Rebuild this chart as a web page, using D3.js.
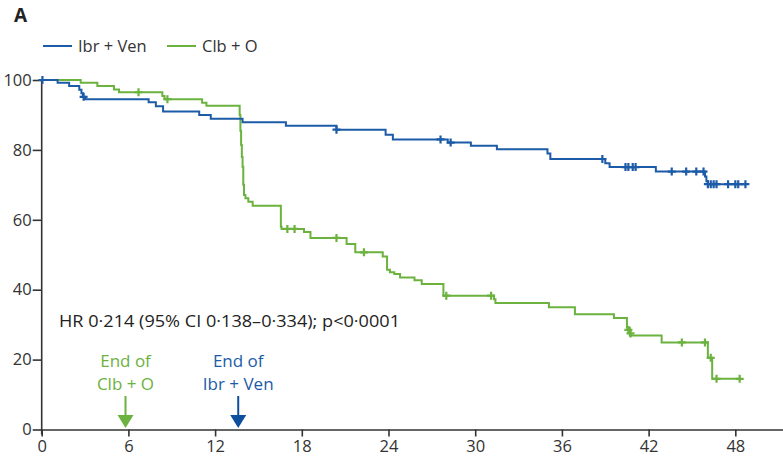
<!DOCTYPE html>
<html><head><meta charset="utf-8">
<script src="https://cdn.jsdelivr.net/npm/d3@7"></script>
<style>
body{margin:0;background:#fff;}
svg{display:block;font-family:"Open Sans",sans-serif;}
</style></head><body>
<svg id="c" width="783" height="458"></svg>
<script>
// ---- data (months, % event-free) ----
const xTicks = [0, 6, 12, 18, 24, 30, 36, 42, 48];
const yTicks = [0, 20, 40, 60, 80, 100];

const ibrVenSteps = [
  [0,100],[1.1,99.2],[1.9,98.3],[2.6,97.2],[2.75,96.2],[2.85,95.2],[3.0,94.5],
  [7.4,93.6],[7.9,92.5],[8.4,91.0],[10.9,90.0],[11.7,88.9],[13.9,87.9],[16.9,86.9],
  [20.4,85.8],[23.8,84.3],[24.3,83.0],[28.1,82.1],[29.7,81.2],[31.5,80.2],[35.0,79.0],
  [35.2,77.4],[39.0,76.2],[39.3,75.1],[42.5,73.8],[45.9,72.4],[46.0,71.0],[46.1,70.2],[48.8,70.2]
];
const ibrVenCensor = [
  [0.05,100],[2.9,95.2],[20.4,85.8],[27.6,83.0],[28.3,82.1],[38.8,77.4],[40.4,75.1],[40.6,75.1],
  [40.9,75.1],[41.1,75.1],[43.6,73.8],[44.6,73.8],[45.3,73.8],[45.8,73.8],[46.1,70.2],[46.3,70.2],
  [46.5,70.2],[46.7,70.2],[47.5,70.2],[48.0,70.2],[48.2,70.2],[48.7,70.2]
];
const clbOSteps = [
  [0,100],[2.7,99.2],[3.85,98.3],[5.0,97.3],[5.35,96.5],[8.35,95.4],[8.5,94.5],[11.1,93.5],
  [11.4,92.6],[13.7,90.0],[13.75,85.5],[13.8,81.4],[13.85,78.0],[13.9,75.2],[13.95,70.0],
  [14.0,67.1],[14.1,66.2],[14.3,65.2],[14.6,64.0],[16.55,58.0],[16.6,57.4],[18.15,56.5],
  [18.6,54.8],[21.1,53.1],[21.7,50.7],[23.6,49.5],[23.9,45.7],[24.1,45.0],[24.4,44.5],
  [24.8,43.5],[25.8,42.7],[26.3,41.6],[27.8,38.3],[31.3,37.3],[31.4,36.2],[35.1,35.0],
  [36.9,33.0],[39.6,31.9],[40.5,29.1],[40.7,26.9],[42.9,24.9],[46.1,20.5],[46.4,14.5],[48.4,14.5]
];
const clbOCensor = [
  [6.7,96.5],[8.7,94.5],[17.0,57.4],[17.5,57.4],[20.4,54.8],[22.3,50.7],[28.0,38.3],[31.1,38.3],
  [40.6,28.5],[40.75,27.5],[44.3,24.9],[45.9,24.9],[46.3,20.5],[46.7,14.5],[48.3,14.5]
];
const seriesNames = ["Ibr + Ven", "Clb + O"];
const hrText = "HR 0·214 (95% CI 0·138–0·334); p<0·0001";
const endLabels = [
  {name:"Clb + O", month:5.8, lines:["End of","Clb + O"]},
  {name:"Ibr + Ven", month:13.6, lines:["End of","Ibr + Ven"]}
];

// ---- drawing ----
const blue = "#1c5ba7", green = "#6bb23e", axisCol = "#333";
const svg = d3.select("#c");
const x = d3.scaleLinear().domain([0, 51.3]).range([41.7, 783]);
const y = d3.scaleLinear().domain([0, 100]).range([429.5, 80]);

// axes
const xAxis = d3.axisBottom(x).tickValues(xTicks).tickSize(7).tickSizeOuter(0).tickPadding(4);
const gx = svg.append("g").attr("transform", `translate(0,${y(0)})`).call(xAxis);
const yAxis = d3.axisLeft(y).tickValues(yTicks).tickSize(9).tickSizeOuter(0).tickPadding(1);
const gy = svg.append("g").attr("transform", `translate(${x(0)},0)`).call(yAxis);
[gx, gy].forEach(g => {
  g.select(".domain").attr("stroke", axisCol).attr("stroke-width", 1.6);
  g.selectAll(".tick line").attr("stroke", axisCol).attr("stroke-width", 1.6);
  g.selectAll(".tick text").attr("fill", "#333").style("font-size", "16.5px").style("font-family", "'Open Sans',sans-serif");
});
gy.select(".domain").attr("d", `M0,${y(100)}V${y(0)+5}`);

const line = d3.line().x(d => x(d[0])).y(d => y(d[1])).curve(d3.curveStepAfter);
function drawSeries(steps, cens, col) {
  svg.append("path").datum(steps).attr("d", line).attr("fill", "none")
    .attr("stroke", col).attr("stroke-width", 2);
  const s = 4;
  svg.append("g").selectAll("path").data(cens).join("path")
    .attr("d", d => `M${x(d[0])-s},${y(d[1])}H${x(d[0])+s}M${x(d[0])},${y(d[1])-s}V${y(d[1])+s}`)
    .attr("stroke", col).attr("stroke-width", 2.2).attr("fill", "none");
}
drawSeries(clbOSteps, clbOCensor, green);
drawSeries(ibrVenSteps, ibrVenCensor, blue);

// panel label
svg.append("text").attr("x", 14).attr("y", 22).text("A")
  .style("font-size", "19px").style("font-weight", "bold").attr("fill", "#222");

// legend
const legend = [{name: seriesNames[0], col: blue, x: 43}, {name: seriesNames[1], col: green, x: 167}];
legend.forEach(l => {
  svg.append("line").attr("x1", l.x).attr("x2", l.x + 29).attr("y1", 46).attr("y2", 46)
    .attr("stroke", l.col).attr("stroke-width", 2);
  svg.append("text").attr("x", l.x + 35).attr("y", 52).text(l.name)
    .style("font-size", "16.5px").attr("fill", "#333");
});

// HR text
svg.append("text").attr("x", 59).attr("y", 327).text(hrText)
  .attr("textLength", 341).attr("lengthAdjust", "spacingAndGlyphs")
  .style("font-size", "16.5px").attr("fill", "#222");

// end-of-treatment arrows
endLabels.forEach((e, i) => {
  const col = i === 0 ? green : "#0d4f9c";
  const tcol = i === 0 ? green : "#1c5ba7";
  const cx = x(e.month);
  const t = svg.append("text").attr("text-anchor", "middle").attr("fill", tcol)
    .style("font-size", "17px");
  e.lines.forEach((ln, k) => t.append("tspan").attr("x", cx).attr("y", 367 + k * 23).text(ln));
  svg.append("line").attr("x1", cx).attr("x2", cx).attr("y1", 396).attr("y2", 416)
    .attr("stroke", col).attr("stroke-width", 2);
  svg.append("path").attr("d", `M${cx-8},${415}L${cx+8},${415}L${cx},${428}Z`).attr("fill", col);
});
</script>
</body></html>
